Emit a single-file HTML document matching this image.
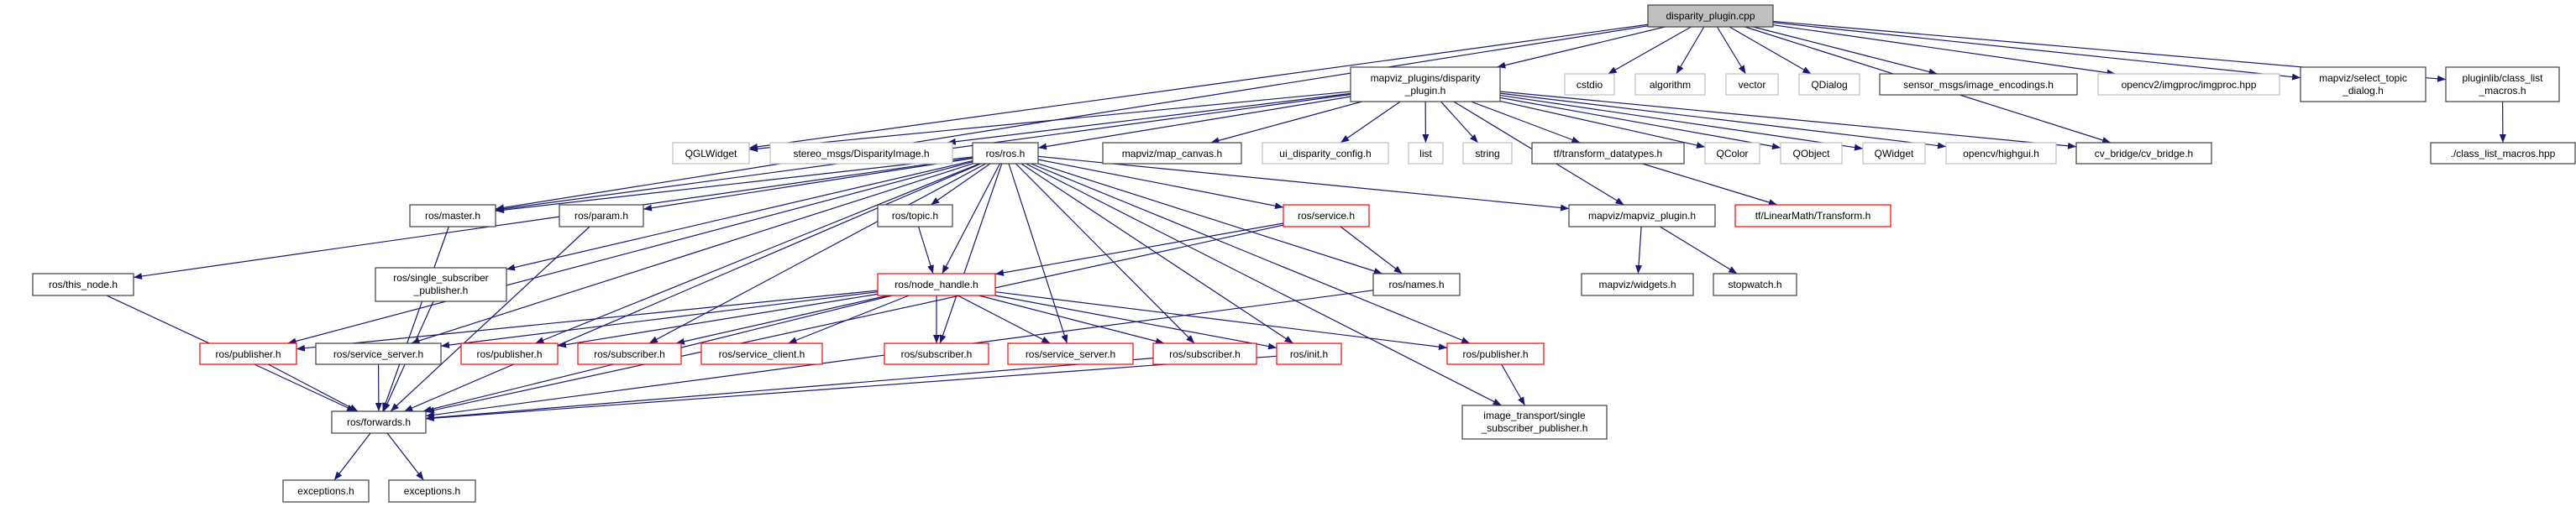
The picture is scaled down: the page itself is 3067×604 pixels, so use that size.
<!DOCTYPE html>
<html><head><meta charset="utf-8"><style>
html,body{margin:0;padding:0;background:#fff;}
svg{display:block}
text{font-family:"Liberation Sans",sans-serif;font-size:12px;fill:#000;text-anchor:middle}
</style></head><body>
<svg id="g" style="position:absolute;left:0;top:0" width="3067" height="604" viewBox="0 0 3067 604" xmlns="http://www.w3.org/2000/svg">
<defs><marker id="ah" markerWidth="10" markerHeight="8" refX="10" refY="4" orient="auto" markerUnits="userSpaceOnUse"><path d="M0,0 L10,4 L0,8 z" fill="#191970"/></marker></defs>
<g id="edges"></g>
</svg>
<script>
var N={
A:[1962,2111,6,32],B:[1608,1786,80,121],cstdio:[1863,1922,88,113],algorithm:[1947,2030,88,113],vector:[2055,2117,88,113],QDialog:[2142,2214,88,113],sensor:[2238,2473,88,113],opencv2:[2498,2714,88,113],select:[2739,2888,80,121],pluginlib:[2912,3047,80,121],
QGL:[801,892,170,195],stereo:[917,1134,170,195],ros:[1158,1236,170,195],canvas:[1313,1478,170,195],ui:[1503,1653,170,195],list:[1677,1718,170,195],string:[1742,1800,170,195],tfdt:[1824,2005,170,195],QColor:[2030,2095,170,195],QObject:[2120,2193,170,195],QWidget:[2218,2292,170,195],highgui:[2317,2448,170,195],cvb:[2472,2633,170,195],cls:[2894,3066,170,195],
master:[488,590,244,270],param:[666,766,244,270],topic:[1045,1134,244,270],service:[1528,1630,244,270],mplug:[1868,2042,244,270],tr:[2066,2251,244,270],
thisnode:[39,159,326,352],single:[447,603,319,359],nh:[1045,1185,326,352],names:[1635,1738,326,352],widgets:[1883,2016,326,352],stopwatch:[2040,2139,326,352],
pub1:[238,353,409,434],ss1:[376,525,409,434],pub2:[549,664,409,434],sub1:[688,811,409,434],scl:[835,979,409,434],sub2:[1053,1177,409,434],ss2:[1200,1349,409,434],sub3:[1373,1496,409,434],init:[1520,1597,409,434],pub3:[1723,1838,409,434],
it:[1741,1913,483,523],fw:[395,507,490,516],exc1:[337,439,572,598],exc2:[463,566,572,598]
};
var E=[
['A','master'],['A','QGL'],['A','B'],['A','cstdio'],['A','algorithm'],['A','vector'],['A','QDialog'],['A','sensor'],['A','opencv2'],['A','select'],['A','pluginlib'],['A','cvb'],
['B','QGL'],['B','stereo'],['B','ros'],['B','canvas'],['B','ui'],['B','list'],['B','string'],['B','tfdt'],['B','QColor'],['B','QObject'],['B','QWidget'],['B','highgui'],['B','cvb'],['B','mplug'],['B','master'],
['ros','master'],['ros','param'],['ros','thisnode'],['ros','single'],['ros','pub1'],['ros','ss1'],['ros','pub2'],['ros','sub1'],['ros','topic'],['ros','nh'],['ros','sub2'],['ros','ss2'],['ros','sub3'],['ros','init'],['ros','service'],['ros','names'],['ros','pub3'],['ros','it'],['ros','mplug'],['ros','fw'],
['topic','nh'],['service','nh'],['service','names'],['service','fw'],
['nh','pub1'],['nh','ss1'],['nh','pub2'],['nh','sub1'],['nh','scl'],['nh','sub2'],['nh','ss2'],['nh','sub3'],['nh','init'],['nh','pub3'],['nh','fw'],
['tfdt','tr'],['mplug','widgets'],['mplug','stopwatch'],['pluginlib','cls'],
['master','fw'],['thisnode','fw'],['single','fw'],['param','fw'],['pub1','fw'],['ss1','fw'],['sub3','fw'],['init','fw'],['names','fw'],['pub3','it'],
['fw','exc1'],['fw','exc2']
];
var ns='http://www.w3.org/2000/svg';
function clip(b,px,py,qx,qy){
  var dx=qx-px,dy=qy-py,hw=(b[1]-b[0])/2,hh=(b[3]-b[2])/2;
  var t=Math.min(dx?Math.abs(hw/dx):1e9,dy?Math.abs(hh/dy):1e9);
  return [px+dx*t,py+dy*t];
}
var eg=document.getElementById('edges');
E.forEach(function(e){
  var s=N[e[0]],t=N[e[1]];
  var sx=(s[0]+s[1])/2,sy=(s[2]+s[3])/2,tx=(t[0]+t[1])/2,ty=(t[2]+t[3])/2;
  var p=clip(s,sx,sy,tx,ty),q=clip(t,tx,ty,sx,sy);
  var dx=q[0]-p[0],dy=q[1]-p[1];
  var l=document.createElementNS(ns,'path');
  l.setAttribute('d','M'+p[0]+','+p[1]+' C'+(p[0]+dx*0.33)+','+(p[1]+dy*0.33)+' '+(p[0]+dx*0.67)+','+(p[1]+dy*0.67)+' '+q[0]+','+q[1]);
  l.setAttribute('fill','none');l.setAttribute('stroke','#191970');l.setAttribute('stroke-width','1.2');
  l.setAttribute('marker-end','url(#ah)');
  eg.appendChild(l);
});
</script>
<svg style="position:absolute;left:0;top:0" width="3067" height="604" viewBox="0 0 3067 604" xmlns="http://www.w3.org/2000/svg">
<g stroke-width="1.2">
<rect x="1962" y="6" width="149" height="26" fill="#bfbfbf" stroke="#404040"/><text x="2036.5" y="23">disparity_plugin.cpp</text>
<rect x="1608" y="80" width="178" height="41" fill="#fff" stroke="#404040"/><text x="1697" y="97">mapviz_plugins/disparity</text><text x="1697" y="112">_plugin.h</text>
<rect x="1863" y="88" width="59" height="25" fill="#fff" stroke="#bfbfbf"/><text x="1892.5" y="105">cstdio</text>
<rect x="1947" y="88" width="83" height="25" fill="#fff" stroke="#bfbfbf"/><text x="1988.5" y="105">algorithm</text>
<rect x="2055" y="88" width="62" height="25" fill="#fff" stroke="#bfbfbf"/><text x="2086" y="105">vector</text>
<rect x="2142" y="88" width="72" height="25" fill="#fff" stroke="#bfbfbf"/><text x="2178" y="105">QDialog</text>
<rect x="2238" y="88" width="235" height="25" fill="#fff" stroke="#404040"/><text x="2355.5" y="105">sensor_msgs/image_encodings.h</text>
<rect x="2498" y="88" width="216" height="25" fill="#fff" stroke="#bfbfbf"/><text x="2606" y="105">opencv2/imgproc/imgproc.hpp</text>
<rect x="2739" y="80" width="149" height="41" fill="#fff" stroke="#404040"/><text x="2813.5" y="97">mapviz/select_topic</text><text x="2813.5" y="112">_dialog.h</text>
<rect x="2912" y="80" width="135" height="41" fill="#fff" stroke="#404040"/><text x="2979.5" y="97">pluginlib/class_list</text><text x="2979.5" y="112">_macros.h</text>
<rect x="801" y="170" width="91" height="25" fill="#fff" stroke="#bfbfbf"/><text x="846.5" y="187">QGLWidget</text>
<rect x="917" y="170" width="217" height="25" fill="#fff" stroke="#bfbfbf"/><text x="1025.5" y="187">stereo_msgs/DisparityImage.h</text>
<rect x="1158" y="170" width="78" height="25" fill="#fff" stroke="#404040"/><text x="1197" y="187">ros/ros.h</text>
<rect x="1313" y="170" width="165" height="25" fill="#fff" stroke="#404040"/><text x="1395.5" y="187">mapviz/map_canvas.h</text>
<rect x="1503" y="170" width="150" height="25" fill="#fff" stroke="#bfbfbf"/><text x="1578" y="187">ui_disparity_config.h</text>
<rect x="1677" y="170" width="41" height="25" fill="#fff" stroke="#bfbfbf"/><text x="1697.5" y="187">list</text>
<rect x="1742" y="170" width="58" height="25" fill="#fff" stroke="#bfbfbf"/><text x="1771" y="187">string</text>
<rect x="1824" y="170" width="181" height="25" fill="#fff" stroke="#404040"/><text x="1914.5" y="187">tf/transform_datatypes.h</text>
<rect x="2030" y="170" width="65" height="25" fill="#fff" stroke="#bfbfbf"/><text x="2062.5" y="187">QColor</text>
<rect x="2120" y="170" width="73" height="25" fill="#fff" stroke="#bfbfbf"/><text x="2156.5" y="187">QObject</text>
<rect x="2218" y="170" width="74" height="25" fill="#fff" stroke="#bfbfbf"/><text x="2255" y="187">QWidget</text>
<rect x="2317" y="170" width="131" height="25" fill="#fff" stroke="#bfbfbf"/><text x="2382.5" y="187">opencv/highgui.h</text>
<rect x="2472" y="170" width="161" height="25" fill="#fff" stroke="#404040"/><text x="2552.5" y="187">cv_bridge/cv_bridge.h</text>
<rect x="2894" y="170" width="172" height="25" fill="#fff" stroke="#404040"/><text x="2980" y="187">./class_list_macros.hpp</text>
<rect x="488" y="244" width="102" height="26" fill="#fff" stroke="#404040"/><text x="539" y="261">ros/master.h</text>
<rect x="666" y="244" width="100" height="26" fill="#fff" stroke="#404040"/><text x="716" y="261">ros/param.h</text>
<rect x="1045" y="244" width="89" height="26" fill="#fff" stroke="#404040"/><text x="1089.5" y="261">ros/topic.h</text>
<rect x="1528" y="244" width="102" height="26" fill="#fff" stroke="#ff0000"/><text x="1579" y="261">ros/service.h</text>
<rect x="1868" y="244" width="174" height="26" fill="#fff" stroke="#404040"/><text x="1955" y="261">mapviz/mapviz_plugin.h</text>
<rect x="2066" y="244" width="185" height="26" fill="#fff" stroke="#ff0000"/><text x="2158.5" y="261">tf/LinearMath/Transform.h</text>
<rect x="39" y="326" width="120" height="26" fill="#fff" stroke="#404040"/><text x="99" y="343">ros/this_node.h</text>
<rect x="447" y="319" width="156" height="40" fill="#fff" stroke="#404040"/><text x="525" y="335">ros/single_subscriber</text><text x="525" y="350">_publisher.h</text>
<rect x="1045" y="326" width="140" height="26" fill="#fff" stroke="#ff0000"/><text x="1115" y="343">ros/node_handle.h</text>
<rect x="1635" y="326" width="103" height="26" fill="#fff" stroke="#404040"/><text x="1686.5" y="343">ros/names.h</text>
<rect x="1883" y="326" width="133" height="26" fill="#fff" stroke="#404040"/><text x="1949.5" y="343">mapviz/widgets.h</text>
<rect x="2040" y="326" width="99" height="26" fill="#fff" stroke="#404040"/><text x="2089.5" y="343">stopwatch.h</text>
<rect x="238" y="409" width="115" height="25" fill="#fff" stroke="#ff0000"/><text x="295.5" y="426">ros/publisher.h</text>
<rect x="376" y="409" width="149" height="25" fill="#fff" stroke="#404040"/><text x="450.5" y="426">ros/service_server.h</text>
<rect x="549" y="409" width="115" height="25" fill="#fff" stroke="#ff0000"/><text x="606.5" y="426">ros/publisher.h</text>
<rect x="688" y="409" width="123" height="25" fill="#fff" stroke="#ff0000"/><text x="749.5" y="426">ros/subscriber.h</text>
<rect x="835" y="409" width="144" height="25" fill="#fff" stroke="#ff0000"/><text x="907" y="426">ros/service_client.h</text>
<rect x="1053" y="409" width="124" height="25" fill="#fff" stroke="#ff0000"/><text x="1115" y="426">ros/subscriber.h</text>
<rect x="1200" y="409" width="149" height="25" fill="#fff" stroke="#ff0000"/><text x="1274.5" y="426">ros/service_server.h</text>
<rect x="1373" y="409" width="123" height="25" fill="#fff" stroke="#ff0000"/><text x="1434.5" y="426">ros/subscriber.h</text>
<rect x="1520" y="409" width="77" height="25" fill="#fff" stroke="#ff0000"/><text x="1558.5" y="426">ros/init.h</text>
<rect x="1723" y="409" width="115" height="25" fill="#fff" stroke="#ff0000"/><text x="1780.5" y="426">ros/publisher.h</text>
<rect x="1741" y="483" width="172" height="40" fill="#fff" stroke="#404040"/><text x="1827" y="499">image_transport/single</text><text x="1827" y="514">_subscriber_publisher.h</text>
<rect x="395" y="490" width="112" height="26" fill="#fff" stroke="#404040"/><text x="451" y="507">ros/forwards.h</text>
<rect x="337" y="572" width="102" height="26" fill="#fff" stroke="#404040"/><text x="388" y="589">exceptions.h</text>
<rect x="463" y="572" width="103" height="26" fill="#fff" stroke="#404040"/><text x="514.5" y="589">exceptions.h</text>
</g>
</svg>
</body></html>
